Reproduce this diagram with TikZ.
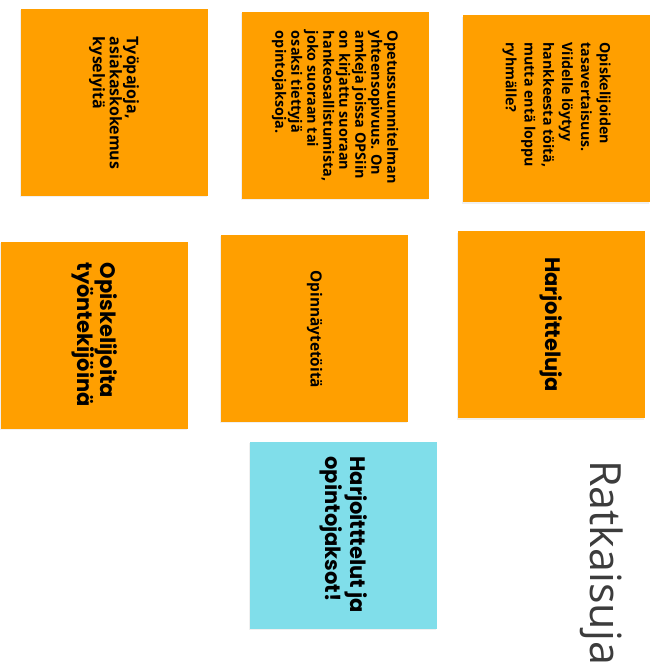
\documentclass[tikz,border=0pt]{standalone}
\usepackage{fontspec}
\setmainfont{Open Sans}
\newfontfamily\bigfont{Poppins}
\usetikzlibrary{shadows}
\definecolor{noteorange}{HTML}{FF9F00}
\definecolor{notecyan}{HTML}{80DEEA}
\definecolor{titlegray}{HTML}{3C3C3C}
\tikzset{
  note/.style={fill=noteorange, minimum width=187pt, minimum height=187pt, inner sep=0pt,
    drop shadow={opacity=0.12, shadow xshift=-1pt, shadow yshift=-1.5pt}},
  notetext/.style={rotate=-90, anchor=west, align=left, inner sep=0pt, font=\bfseries},
}
\begin{document}
\begin{tikzpicture}[x=1pt,y=-1pt]
    \useasboundingbox (0,0) rectangle (653,668);
    % top row
    \node[note] (tyopajat) at (114,102.5) {};
    \node[note] (ops) at (335,105.5) {};
    \node[note] (tasa) at (556.5,109) {};
    \node[notetext, font=\bfseries\fontsize{16}{17}\selectfont] (tyopajattxt) at ([yshift=-28pt]tyopajat.north)
        {Työpajoja,\\asiakaskokemus\\kyselyitä};
    \node[notetext, font=\bfseries\fontsize{14.4}{16}\selectfont] (opstxt) at ([yshift=-19pt]ops.north)
        {Opetussuunnitelman\\yhteensopivuus. On\\amkeja joissa OPSiin\\on kirjattu suoraan\\hankeosallistumista,\\joko suoraan tai\\osaksi tiettyjä\\opintojaksoja.};
    \node[notetext, font=\bfseries\fontsize{14.2}{18.8}\selectfont] (tasatxt) at ([yshift=-27pt]tasa.north)
        {Opiskelijoiden\\tasavertaisuus.\\Viidelle löytyy\\hankkeesta töitä,\\mutta entä loppu\\ryhmälle?};
    % middle row
    \node[note] (tyontekijat) at (94.5,335) {};
    \node[note] (opinnaytteet) at (314.5,328) {};
    \node[note] (harjoittelut) at (551,324.5) {};
    \node[notetext, font=\bigfont\bfseries\fontsize{21}{21}\selectfont] (tyontekijattxt) at ([yshift=-21pt]tyontekijat.north)
        {Opiskelijoita\\työntekijöinä};
    \node[notetext, font=\bfseries\fontsize{15.4}{17}\selectfont] (opinnaytteettxt) at ([yshift=-36pt]opinnaytteet.north)
        {Opinnäytetöitä};
    \node[notetext, font=\bigfont\bfseries\fontsize{21}{23}\selectfont] (harjoittelutxt) at ([yshift=-26pt]harjoittelut.north)
        {Harjoitteluja};
    % ratkaisu
    \node[note, fill=notecyan] (ratkaisu) at (343.5,535) {};
    \node[notetext, font=\bigfont\bfseries\fontsize{21}{25}\selectfont] (ratkaisutxt) at ([yshift=-15pt]ratkaisu.north)
        {Harjoitttelut ja\\opintojaksot!};
    \node[rotate=-90, anchor=base west, inner sep=0pt, text=titlegray, font=\fontsize{43}{45}\selectfont] (otsikko) at (590,460) {Ratkaisuja};
\end{tikzpicture}
\end{document}
